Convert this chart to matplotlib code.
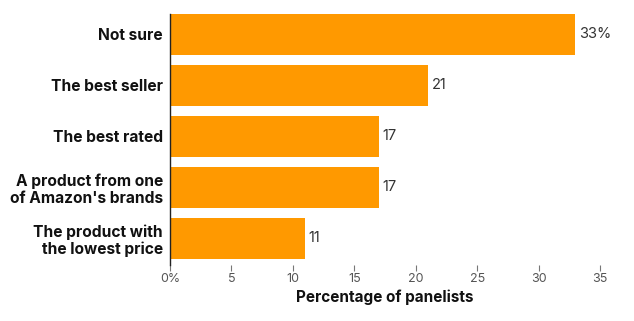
import matplotlib.pyplot as plt

categories = ["Not sure", "The best seller", "The best rated",
              "A product from one\nof Amazon's brands",
              "The product with\nthe lowest price"]
values = [33, 21, 17, 17, 11]
xticks = [0, 5, 10, 15, 20, 25, 30, 35]
xtick_labels = ["0%", "5", "10", "15", "20", "25", "30", "35"]

plt.rcParams['font.family'] = ['Inter', 'DejaVu Sans']

fig = plt.figure(figsize=(6.34, 3.21), dpi=100)
ax = fig.add_axes([170 / 634, 56 / 321, 430 / 634, 251 / 321])

ypos = list(range(len(values)))
ax.barh(ypos, values, height=0.8, color="#ff9900")

for y, v, i in zip(ypos, values, range(len(values))):
    lbl = f"{v}%" if i == 0 else f"{v}"
    ax.text(v + 0.3, y, lbl, va="center", ha="left", fontsize=10.5, color="#333333")

ax.set_xlim(0, 35)
ax.set_ylim(4.52, -0.4)
ax.set_yticks(ypos)
ax.set_yticklabels(categories, fontsize=11.2, fontweight="bold", color="#111111",
                   linespacing=1.15)
ax.tick_params(axis="y", length=0, pad=5)
ax.set_xticks(xticks)
ax.set_xticklabels(xtick_labels, fontsize=9, color="#555555")
ax.tick_params(axis="x", length=4, color="#777777", pad=2)

for s in ["top", "right", "bottom"]:
    ax.spines[s].set_visible(False)
ax.spines["left"].set_color("#222222")
ax.spines["left"].set_linewidth(1.0)

ax.set_xlabel("Percentage of panelists", fontsize=11, fontweight="bold",
              color="#111111", labelpad=3)

fig.savefig("out.png", dpi=100)
